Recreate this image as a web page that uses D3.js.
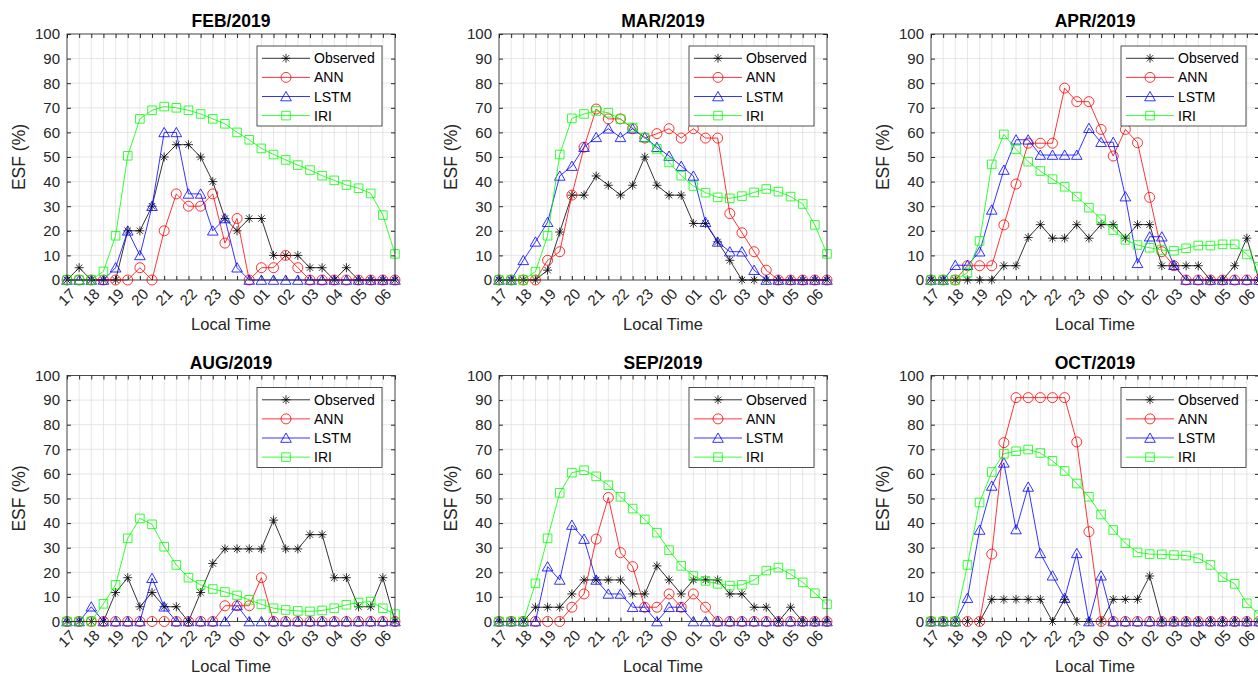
<!DOCTYPE html>
<html lang="en">
<head>
<meta charset="utf-8"/>
<title>ESF panels</title>
<script src="https://d3js.org/d3.v7.min.js"></script>
<style>
  body { margin: 0; background: #fff; }
  text { font-family: "Liberation Sans", Arial, Helvetica, sans-serif; fill: #262626; }
</style>
</head>
<body>
<svg id="chart" width="1258" height="676"></svg>
<script>
// half-hour steps, 17:00 .. 06:30
const times = ["17:00","17:30","18:00","18:30","19:00","19:30","20:00","20:30","21:00","21:30",
  "22:00","22:30","23:00","23:30","00:00","00:30","01:00","01:30","02:00","02:30",
  "03:00","03:30","04:00","04:30","05:00","05:30","06:00","06:30"];
const yTicks = [0,10,20,30,40,50,60,70,80,90,100];
const seriesNames = ["Observed", "ANN", "LSTM", "IRI"];
const monthTitles = ["FEB/2019", "MAR/2019", "APR/2019", "AUG/2019", "SEP/2019", "OCT/2019"];

const febObserved = [0,5,0,0,0,20,20,30,50,55,55,50,40,25,20,25,25,10,10,10,5,5,0,5,0,0,0,0];
const febAnn      = [0,0,0,0,0,0,5,0,20,35,30,30,35,15,25,0,5,5,10,5,0,0,0,0,0,0,0,0];
const febLstm     = [0,0,0,0,5,20,10,30,60,60,35,35,20,25,5,0,0,0,0,0,0,0,0,0,0,0,0,0];
const febIri      = [0,0,0,3.5,18,50.5,65.5,69,70.5,70,69,67.5,65.5,63.5,60,57,53.5,51,48.8,46.7,44.7,42.4,40.5,38.6,37.3,35.2,26.4,10.6];

const marObserved = [0,0,0,0,4,19.5,34.5,34.5,42.3,38.5,34.5,38.5,50,38.5,34.5,34.5,23,23,15.5,8,0,0,0,0,0,0,0,0];
const marAnn      = [0,0,0,0,8,11.5,34.5,54,69.5,65.5,65.5,61.5,57.7,59.5,61.5,57.7,61.5,57.7,57.7,27,19.2,11.5,4,0,0,0,0,0];
const marLstm     = [0,0,8,15.5,23.5,42.3,46.3,54,58,61.5,58,61.5,58,54,50.4,46.3,42.3,23.5,15.5,11.5,11.5,4,0,0,0,0,0,0];
const marIri      = [0,0,0,3.4,18,51,65.7,67.5,68.7,68,65.4,62,57.9,53.3,47.8,42.4,38.2,35.5,33.6,33.2,34.1,35.6,37,35.9,33.9,30.9,22.4,10.6];

const aprObserved = [0,0,0,0,0,0,5.8,5.8,17.3,22.5,17,17,22.5,17,22.5,22.5,17,22.5,22.5,5.8,5.8,5.8,5.8,0,0,5.8,17,0];
const aprAnn      = [0,0,0,5.8,5.8,5.8,22.4,39,55.6,55.6,55.6,78,72.5,72.5,61.2,50.4,61.2,55.8,33.6,11.5,5.8,0,0,0,0,0,0,0];
const aprLstm     = [0,0,6,6,11.5,28.5,44.7,57,57,50.8,50.8,50.8,50.8,61.7,56,56,33.9,6.8,17.6,17.6,6,0,0,0,0,0,0,0];
const aprIri      = [0,0,0,3,15.9,47,59.2,53.1,48.1,44.3,41,37.9,33.9,29.4,24.7,20.3,16.3,14.2,13.1,12.2,11.9,12.9,14,14,14.5,14.5,10.4,5.4];

const augObserved = [0,0,0,0,11.8,17.8,6,11.8,6,6,0,11.8,23.6,29.5,29.5,29.5,29.5,41.2,29.5,29.5,35.3,35.3,17.8,17.8,6,6,17.8,0];
const augAnn      = [0,0,0,0,0,0,0,0,0,0,0,0,0,6.4,6.4,6.4,17.8,0,0,0,0,0,0,0,0,0,0,0];
const augLstm     = [0,0,6,0,0,0,0,17.6,6,0,0,0,0,0,6.5,0,0,0,0,0,0,0,0,0,0,0,0,0];
const augIri      = [0,0,0,7.2,14.9,33.8,41.9,39.5,30.4,23,17.8,14.9,13.2,12,10.6,8.8,7,5.4,4.7,4.3,4.1,4.5,5.4,6.8,7.7,8.1,5.4,3];

const sepObserved = [0,0,0,5.8,5.8,5.8,11.2,16.9,16.9,16.9,16.9,11.2,11.2,22.6,16.9,11.2,16.9,16.9,16.9,11.2,11.2,5.8,5.8,0,5.8,0,0,0];
const sepAnn      = [0,0,0,0,0,0,5.8,11.2,33.5,50.4,28,22.3,5.8,5.8,11.2,5.8,11.2,5.8,0,0,0,0,0,0,0,0,0,0];
const sepLstm     = [0,0,0,0,22.3,16.9,39.2,33.5,16.9,11.2,11.2,5.8,5.8,0,5.8,5.8,0,0,0,0,0,0,0,0,0,0,0,0];
const sepIri      = [0,0,0,15.5,33.8,52.3,60.5,61.5,59,55.4,50.7,45.9,41.5,36.1,29,22.6,18.5,16.5,15.3,14.6,14.9,16.9,20.7,21.9,19.2,15.9,11.5,7];

const octObserved = [0,0,0,0,0,9,9,9,9,9,0,9,0,0,0,9,9,9,18.5,0,0,0,0,0,0,0,0,0];
const octAnn      = [0,0,0,0,0,27.4,72.7,91,91,91,91,91,73,36.5,0,0,0,0,0,0,0,0,0,0,0,0,0,0];
const octLstm     = [0,0,0,9.5,37.2,55.1,64.5,37.4,54.7,27.7,18.6,9.5,27.7,0,18.6,0,0,0,0,0,0,0,0,0,0,0,0,0];
const octIri      = [0,0,0,23,48.4,60.8,68.2,69.2,69.9,68.5,65.3,61.2,56.1,50.7,43.5,37.2,31.8,28.1,27.4,27.3,27,26.8,25.7,23,18,15.3,7.4,2.7];

const panelData = [
  [febObserved, febAnn, febLstm, febIri],
  [marObserved, marAnn, marLstm, marIri],
  [aprObserved, aprAnn, aprLstm, aprIri],
  [augObserved, augAnn, augLstm, augIri],
  [sepObserved, sepAnn, sepLstm, sepIri],
  [octObserved, octAnn, octLstm, octIri]
];

const colors = ["#000000", "#ff0000", "#0000ff", "#00ff00"];

// marker shapes (matlab style: *, o, ^, s)
function markerPath(kind) {
  if (kind === 0) {
    const r = 4.5, d = r * 0.707;
    return `M${-r},0L${r},0M0,${-r}L0,${r}M${-d},${-d}L${d},${d}M${-d},${d}L${d},${-d}`;
  }
  if (kind === 1) {
    const r = 5;
    return `M${r},0A${r},${r} 0 1,1 ${-r},0A${r},${r} 0 1,1 ${r},0Z`;
  }
  if (kind === 2) return "M0,-5L5.3,4.3L-5.3,4.3Z";
  return "M-4.3,-4.3H4.3V4.3H-4.3Z";
}

const plotW = 328, plotH = 246;
const colLeft = [67, 499, 931], rowTop = [34, 375.5];

const svg = d3.select("#chart");

panelData.forEach(function(series, k) {
  const left = colLeft[k % 3], top = rowTop[Math.floor(k / 3)];
  const g = svg.append("g").attr("transform", `translate(${left},${top})`);

  const x = d3.scalePoint().domain(times).range([0, plotW]);
  const y = d3.scaleLinear().domain([0, 100]).range([plotH, 0]);

  // grid
  g.append("g").selectAll("line").data(times).join("line")
    .attr("x1", d => x(d)).attr("x2", d => x(d))
    .attr("y1", 0).attr("y2", plotH)
    .attr("stroke", "#dfdfdf").attr("stroke-width", 0.8);
  g.append("g").selectAll("line").data(yTicks).join("line")
    .attr("x1", 0).attr("x2", plotW)
    .attr("y1", d => y(d)).attr("y2", d => y(d))
    .attr("stroke", "#dfdfdf").attr("stroke-width", 0.8);

  // axes
  const hourLabel = d => d.endsWith(":00") ? d.slice(0, 2) : "";
  const xAxis = g.append("g").attr("transform", `translate(0,${plotH})`)
    .call(d3.axisBottom(x).tickSizeInner(-4).tickSizeOuter(0).tickFormat(hourLabel));
  xAxis.select(".domain").remove();
  xAxis.selectAll("text")
    .attr("font-size", 15)
    .attr("text-anchor", "end")
    .attr("dominant-baseline", "central")
    .attr("y", 0).attr("dy", null)
    .attr("transform", "translate(5,11) rotate(-45)");
  g.append("g")
    .call(d3.axisTop(x).tickSizeInner(-4).tickSizeOuter(0).tickFormat(""))
    .select(".domain").remove();

  const yAxis = g.append("g")
    .call(d3.axisLeft(y).tickValues(yTicks).tickSizeInner(-4).tickSizeOuter(0).tickPadding(7));
  yAxis.select(".domain").remove();
  yAxis.selectAll("text").attr("font-size", 15);
  g.append("g").attr("transform", `translate(${plotW},0)`)
    .call(d3.axisRight(y).tickValues(yTicks).tickSizeInner(-4).tickSizeOuter(0).tickFormat(""))
    .select(".domain").remove();
  g.selectAll(".tick line").attr("stroke", "#262626");

  // series
  const line = d3.line().x((d, i) => x(times[i])).y(d => y(d));
  series.forEach(function(vals, s) {
    g.append("path").datum(vals)
      .attr("d", line)
      .attr("fill", "none")
      .attr("stroke", colors[s])
      .attr("stroke-width", 0.8);
    g.append("g").selectAll("path").data(vals).join("path")
      .attr("transform", (d, i) => `translate(${x(times[i])},${y(d)})`)
      .attr("d", markerPath(s))
      .attr("fill", "none")
      .attr("stroke", colors[s])
      .attr("stroke-width", 0.8);
  });

  // box
  g.append("rect").attr("width", plotW).attr("height", plotH)
    .attr("fill", "none").attr("stroke", "#262626").attr("stroke-width", 0.8);

  // labels
  g.append("text").attr("x", plotW / 2).attr("y", -7)
    .attr("text-anchor", "middle").attr("font-size", 17.5).attr("font-weight", "bold")
    .style("fill", "#000")
    .text(monthTitles[k]);
  g.append("text").attr("x", plotW / 2).attr("y", plotH + 50)
    .attr("text-anchor", "middle").attr("font-size", 16.5)
    .text("Local Time");
  g.append("text")
    .attr("transform", `translate(-42,${plotH / 2}) rotate(-90)`)
    .attr("text-anchor", "middle").attr("font-size", 17.5)
    .text("ESF (%)");

  // legend
  const lg = g.append("g").attr("transform", `translate(${plotW - 138},12)`);
  lg.append("rect").attr("width", 125).attr("height", 80)
    .attr("fill", "#fff").attr("stroke", "#262626").attr("stroke-width", 0.8);
  seriesNames.forEach(function(name, s) {
    const ly = 12.3 + s * 19.1;
    lg.append("line").attr("x1", 5).attr("x2", 53).attr("y1", ly).attr("y2", ly)
      .attr("stroke", colors[s]).attr("stroke-width", 0.8);
    lg.append("path").attr("transform", `translate(29,${ly})`)
      .attr("d", markerPath(s)).attr("fill", "none")
      .attr("stroke", colors[s]).attr("stroke-width", 0.8);
    lg.append("text").attr("x", 57).attr("y", ly)
      .attr("dominant-baseline", "central").attr("font-size", 14)
      .style("fill", "#000")
      .text(name);
  });
});
</script>
</body>
</html>
